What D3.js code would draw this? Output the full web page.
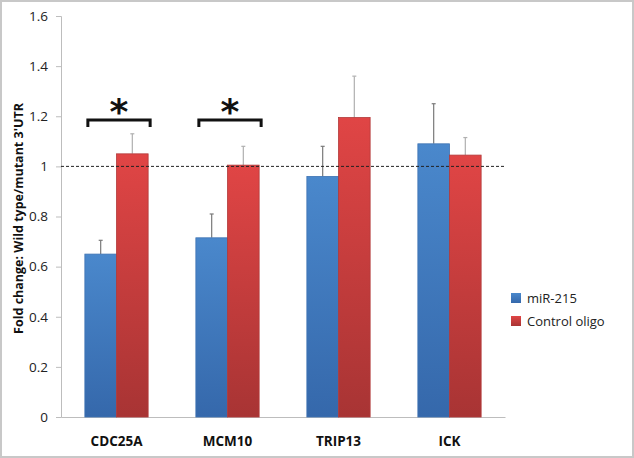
<!DOCTYPE html>
<html><head><meta charset="utf-8">
<script src="https://cdn.jsdelivr.net/npm/d3@7"></script>
<style>body{margin:0;background:#fff}svg{display:block}</style>
</head><body>
<script>
const categories = ["CDC25A","MCM10","TRIP13","ICK"];
const seriesNames = ["miR-215","Control oligo"];
const mir215 = [0.65, 0.715, 0.96, 1.09];
const mir215Err = [0.055, 0.095, 0.12, 0.16];
const control = [1.05, 1.005, 1.195, 1.045];
const controlErr = [0.08, 0.075, 0.165, 0.07];
const yTicks = [0,0.2,0.4,0.6,0.8,1,1.2,1.4,1.6];
const significant = ["CDC25A","MCM10"];

const W=634,H=458;
const svg=d3.select("body").append("svg").attr("width",W).attr("height",H);
const defs=svg.append("defs");
const gb=defs.append("linearGradient").attr("id","gBlue").attr("x1",0).attr("y1",0).attr("x2",0).attr("y2",1);
gb.append("stop").attr("offset","0%").attr("stop-color","#4a88cc");
gb.append("stop").attr("offset","100%").attr("stop-color","#3568ab");
const gr=defs.append("linearGradient").attr("id","gRed").attr("x1",0).attr("y1",0).attr("x2",0).attr("y2",1);
gr.append("stop").attr("offset","0%").attr("stop-color","#e04545");
gr.append("stop").attr("offset","100%").attr("stop-color","#a83434");

svg.append("rect").attr("x",1).attr("y",1).attr("width",W-2).attr("height",H-2)
  .attr("fill","#fff").attr("stroke","#c8c8c8").attr("stroke-width",2);

const font="'Open Sans', Lato, sans-serif";
const x0=d3.scaleBand().domain(categories).range([61,505]).paddingInner(0.43).paddingOuter(0.215);
const x1=d3.scaleBand().domain(seriesNames).range([0,x0.bandwidth()]);
const y=d3.scaleLinear().domain([0,1.6]).range([417,16]);

// y axis
const ya=svg.append("g").attr("transform","translate(61,0)")
  .call(d3.axisLeft(y).tickValues(yTicks).tickFormat(d=>d3.format("")(d)).tickSize(5).tickPadding(8));
ya.select(".domain").attr("stroke","#bdbdbd");
ya.selectAll(".tick line").attr("stroke","#bdbdbd");
ya.selectAll("text").attr("font-family",font).attr("font-size",13.5).attr("fill","#222");

// x axis
const xa=svg.append("g").attr("transform","translate(0,417)")
  .call(d3.axisBottom(x0).tickSize(0).tickPadding(19));
xa.select(".domain").attr("stroke","#bdbdbd");
xa.selectAll("text").attr("font-family",font).attr("font-size",13.5).attr("font-weight","bold").attr("fill","#111");

// axis title
svg.append("text").attr("transform","translate(23,"+(y(0.8)+2)+") rotate(-90)")
  .attr("text-anchor","middle").attr("font-family",font).attr("font-size",12.5).attr("font-weight","bold")
  .attr("fill","#111").text("Fold change: Wild type/mutant 3'UTR");

const data=categories.map((c,i)=>({c,vals:[
  {s:seriesNames[0],v:mir215[i],e:mir215Err[i],fill:"url(#gBlue)",edge:"#3f73b3",ec:"#7a7a7a"},
  {s:seriesNames[1],v:control[i],e:controlErr[i],fill:"url(#gRed)",edge:"#b23a3a",ec:"#b0b0b0"}]}));

const grp=svg.append("g").selectAll("g").data(data).join("g")
  .attr("transform",d=>`translate(${x0(d.c)},0)`);
// error bars
grp.selectAll("line.err").data(d=>d.vals).join("line").attr("class","err")
  .attr("x1",d=>x1(d.s)+x1.bandwidth()/2).attr("x2",d=>x1(d.s)+x1.bandwidth()/2)
  .attr("y1",d=>y(d.v)).attr("y2",d=>y(d.v+d.e)).attr("stroke",d=>d.ec).attr("stroke-width",1.2);
grp.selectAll("line.cap").data(d=>d.vals).join("line").attr("class","cap")
  .attr("x1",d=>x1(d.s)+x1.bandwidth()/2-2).attr("x2",d=>x1(d.s)+x1.bandwidth()/2+2)
  .attr("y1",d=>y(d.v+d.e)).attr("y2",d=>y(d.v+d.e)).attr("stroke",d=>d.ec).attr("stroke-width",1.2);
grp.selectAll("rect").data(d=>d.vals).join("rect")
  .attr("x",d=>x1(d.s)).attr("width",x1.bandwidth())
  .attr("y",d=>y(d.v)).attr("height",d=>y(0)-y(d.v))
  .attr("fill",d=>d.fill).attr("stroke",d=>d.edge).attr("stroke-width",0.8);

// reference line at 1
svg.append("line").attr("x1",61).attr("x2",505).attr("y1",y(1)).attr("y2",y(1))
  .attr("stroke","#222").attr("stroke-width",1).attr("stroke-dasharray","3,2");

// significance brackets
significant.forEach(c=>{
  const xl=x0(c)+3, xr=x0(c)+x0.bandwidth()+2, yb=y(1.185);
  svg.append("path").attr("d",`M${xl},${yb+7}V${yb}H${xr}V${yb+7}`)
    .attr("fill","none").attr("stroke","#111").attr("stroke-width",3);
  svg.append("text").attr("x",(xl+xr)/2).attr("y",yb+4).attr("text-anchor","middle")
    .attr("font-family","'DejaVu Sans', sans-serif").attr("font-size",36).attr("font-weight","bold")
    .attr("fill","#111").text("*");
});

// legend
const lg=svg.append("g").attr("transform","translate(511,293)");
seriesNames.forEach((s,i)=>{
  lg.append("rect").attr("x",0).attr("y",i*23).attr("width",10).attr("height",10)
    .attr("fill",i?"url(#gRed)":"url(#gBlue)");
  lg.append("text").attr("x",16).attr("y",i*23+10).attr("font-family",font).attr("font-size",13)
    .attr("fill","#222").text(s);
});
</script>
</body></html>
